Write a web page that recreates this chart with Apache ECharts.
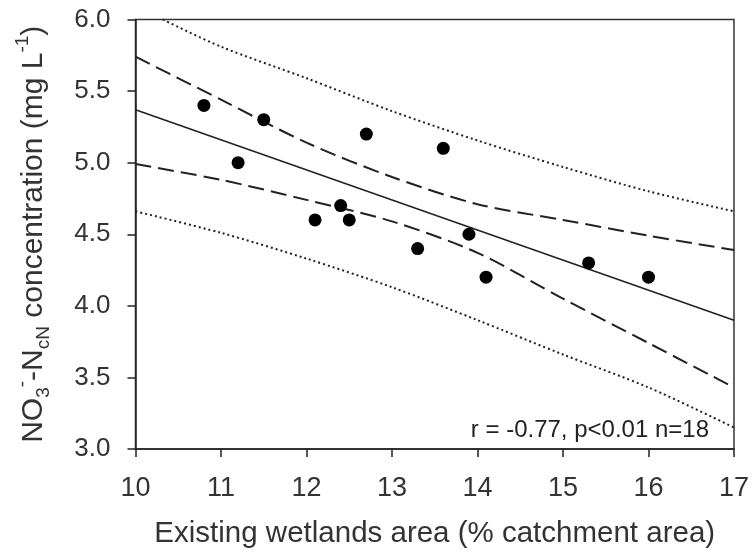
<!DOCTYPE html>
<html>
<head>
<meta charset="utf-8">
<script src="https://cdn.jsdelivr.net/npm/echarts@6/dist/echarts.min.js"></script>
<style>
html,body{margin:0;padding:0;background:#fff;}
#chart{width:752px;height:554px;}
</style>
</head>
<body>
<div id="chart"></div>
<script>
// Observed points
var pointsX = [10.8, 11.2, 11.5, 12.1, 12.4, 12.5, 12.7, 13.3, 13.6, 13.9, 14.1, 15.3, 16.0];
var pointsY = [5.4, 5.0, 5.3, 4.6, 4.7, 4.6, 5.2, 4.4, 5.1, 4.5, 4.2, 4.3, 4.2];
// Regression line
var fitX = [10, 17];
var fitY = [5.37, 3.90];
// 95% confidence band (dashed)
var confX = [10, 11, 12, 13, 14, 15, 16, 17];
var confUpper = [5.74, 5.44, 5.14, 4.90, 4.71, 4.60, 4.49, 4.39];
var confLower = [4.99, 4.88, 4.74, 4.59, 4.37, 4.05, 3.74, 3.43];
// Prediction band (dotted)
var predUpperX = [10.32, 11, 12, 13, 14, 15, 16, 17];
var predUpper = [6.0, 5.81, 5.59, 5.36, 5.155, 4.97, 4.80, 4.66];
var predLowerX = [10, 11, 12, 13, 14, 15, 16, 17];
var predLower = [4.66, 4.51, 4.33, 4.13, 3.90, 3.66, 3.43, 3.15];
// Axes
var xTicks = [10, 11, 12, 13, 14, 15, 16, 17];
var yTicks = [3.0, 3.5, 4.0, 4.5, 5.0, 5.5, 6.0];
var annotation = 'r = -0.77, p<0.01 n=18';

function pairs(xs, ys){ return xs.map(function(x,i){ return [x, ys[i]]; }); }

var FONT = '"Liberation Sans", Arial, Helvetica, sans-serif';
var chart = echarts.init(document.getElementById('chart'), null, {renderer:'canvas'});

var lineBase = {type:'line', symbol:'none', silent:true, z:2};

chart.setOption({
  animation:false,
  backgroundColor:'#fff',
  grid:{left:135.5, right:17.7, top:19.5, bottom:104.5, show:true, borderColor:'#333', borderWidth:1.5, backgroundColor:'transparent'},
  xAxis:{
    type:'value', min:xTicks[0], max:xTicks[xTicks.length-1], interval:1,
    axisLine:{lineStyle:{color:'#222', width:1.5}},
    axisTick:{show:true, inside:false, length:8, lineStyle:{color:'#222', width:1.5}},
    splitLine:{show:false},
    axisLabel:{color:'#333', fontSize:27, fontFamily:FONT, margin:26},
    name:'Existing wetlands area (% catchment area)',
    nameLocation:'middle', nameGap:70,
    nameTextStyle:{color:'#333', fontSize:29.5, fontFamily:FONT}
  },
  yAxis:{
    type:'value', min:yTicks[0], max:yTicks[yTicks.length-1], interval:0.5,
    axisLine:{lineStyle:{color:'#222', width:1.5}},
    axisTick:{show:true, inside:false, length:8, lineStyle:{color:'#222', width:1.5}},
    splitLine:{show:false},
    axisLabel:{color:'#333', fontSize:26, fontFamily:FONT, margin:25, formatter:function(v){return v.toFixed(1);}},
    name:'{n|NO}{sub|3}{sup|-}{n|-N}{sub|cN}{n| concentration (mg L}{sup|-1}{n|)}',
    nameLocation:'middle', nameGap:82, nameRotate:90,
    nameTextStyle:{
      color:'#333', fontSize:30, fontFamily:FONT,
      rich:{
        n:{fontSize:30, fontFamily:FONT, color:'#333', lineHeight:40},
        sub:{fontSize:19, fontFamily:FONT, color:'#333', verticalAlign:'bottom', lineHeight:40},
        sup:{fontSize:19, fontFamily:FONT, color:'#333', verticalAlign:'top', lineHeight:40}
      }
    }
  },
  series:[
    Object.assign({}, lineBase, {name:'predUpper', data:pairs(predUpperX, predUpper), smooth:0.3,
      lineStyle:{color:'#222', width:2, type:[2,3]}}),
    Object.assign({}, lineBase, {name:'predLower', data:pairs(predLowerX, predLower), smooth:0.3,
      lineStyle:{color:'#222', width:2, type:[2,3]}}),
    Object.assign({}, lineBase, {name:'confUpper', data:pairs(confX, confUpper), smooth:0.3,
      lineStyle:{color:'#222', width:2, type:[16,7]}}),
    Object.assign({}, lineBase, {name:'confLower', data:pairs(confX, confLower), smooth:0.3,
      lineStyle:{color:'#222', width:2, type:[16,7]}}),
    Object.assign({}, lineBase, {name:'fit', data:pairs(fitX, fitY),
      lineStyle:{color:'#222', width:1.6, type:'solid'}}),
    {type:'scatter', name:'obs', data:pairs(pointsX, pointsY), symbol:'circle', symbolSize:13,
      itemStyle:{color:'#000', opacity:1}, z:5, silent:true}
  ],
  graphic:[
    {type:'text', right:43, top:418, silent:true,
      style:{text:annotation, fill:'#222', font:'24px ' + FONT}}
  ]
});
</script>
</body>
</html>
